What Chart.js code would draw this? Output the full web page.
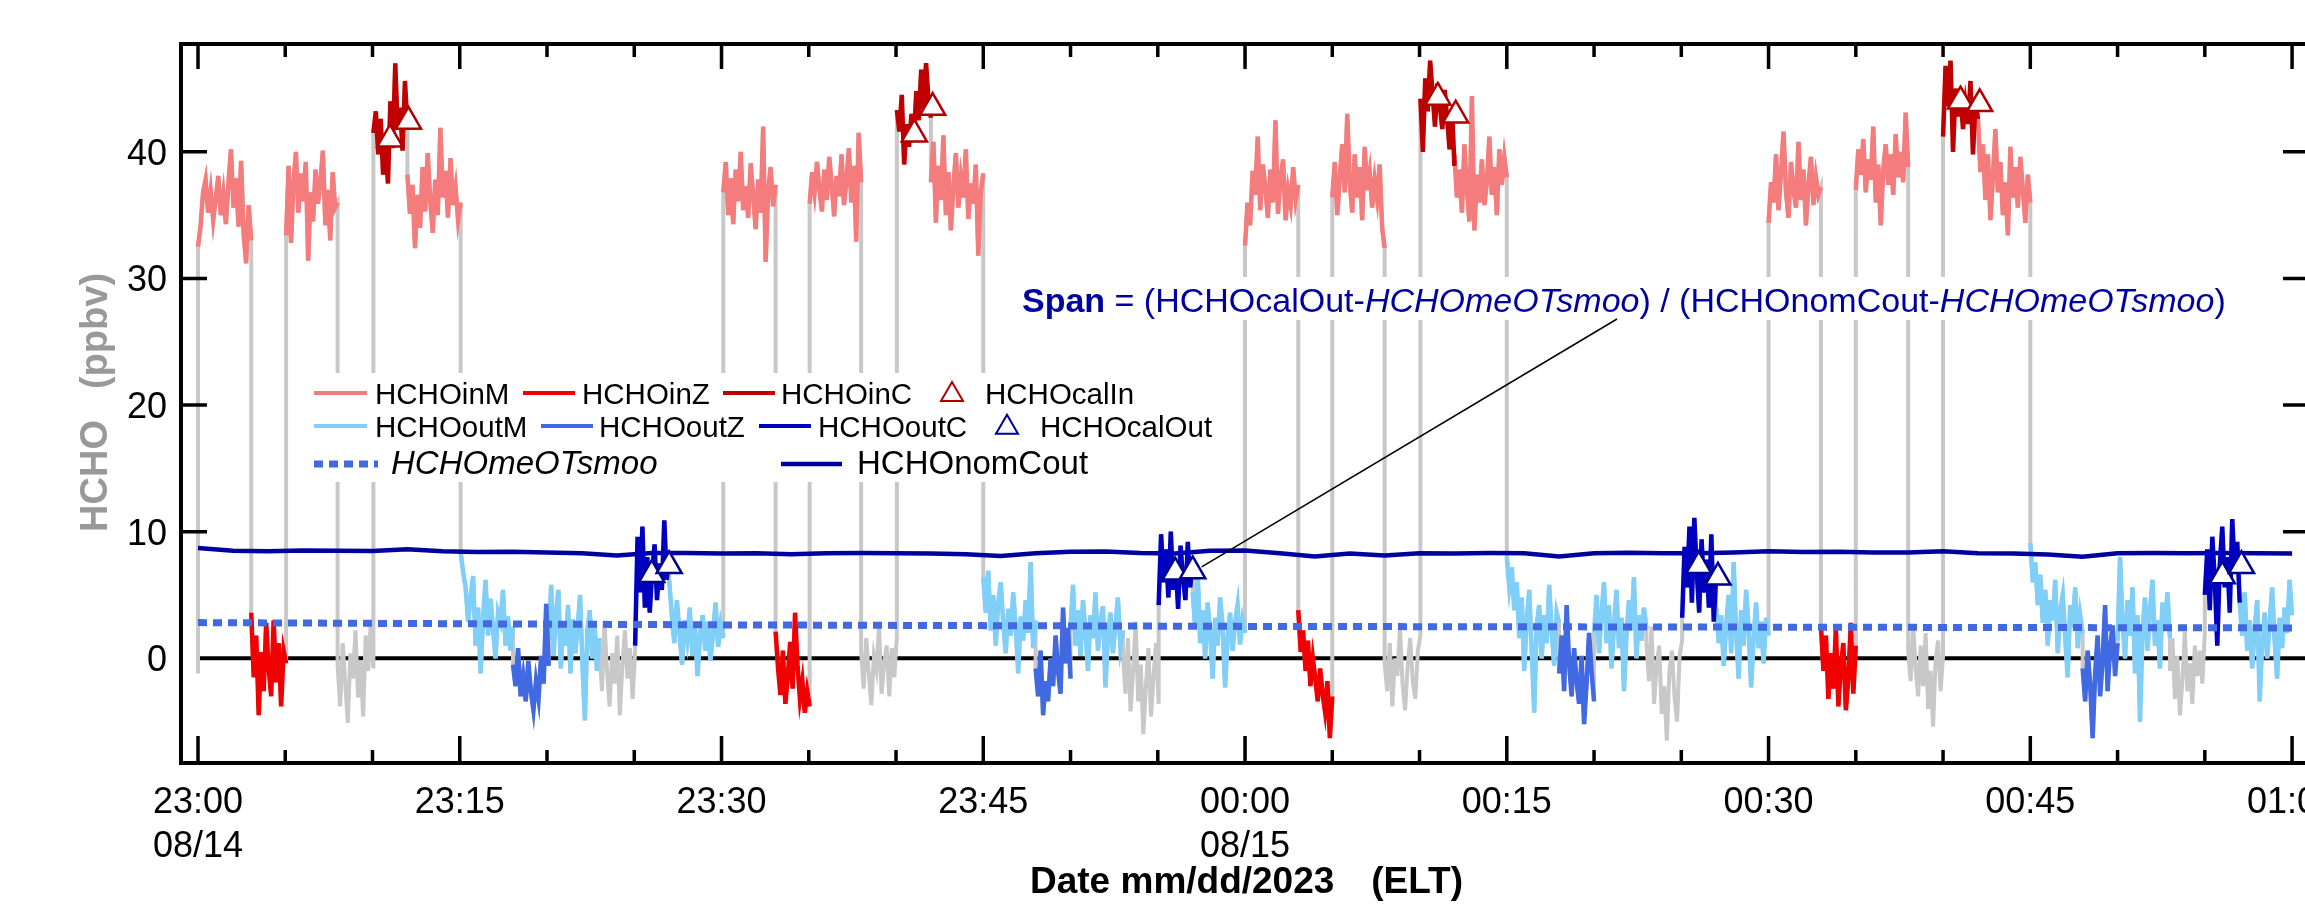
<!DOCTYPE html>
<html>
<head>
<meta charset="utf-8">
<title>HCHO in / out</title>
<script src="https://cdn.jsdelivr.net/npm/chart.js@4.4.1/dist/chart.umd.min.js"></script>
<style>
  html, body { margin: 0; padding: 0; background: #fff; overflow: hidden; }
  #wrap { width: 2330px; height: 913px; }
</style>
</head>
<body>
<div id="wrap"><canvas id="hcho" width="2330" height="913"></canvas></div>
<script>
// time = minutes after 23:00 on 08/14
// --- inlet ambient (HCHOinM)
const inMTimes = [[0,3.05],[5.05,8],[12,15.05],[30.1,33.1],[35.05,38],[42,45],[60,63.05],[65,68],[72,75],[90,93],[95,98],[102,105]];
const inMValues = [
  [32.5,34.1,36.8,37.8,35.2,36.9,34.6,36.3,38.1,35.0,36.7,34.3,37.5,40.2,35.6,37.9,34.1,39.3,33.5,31.2,35.8,33.0],
  [33.4,38.9,32.8,37.6,40.0,35.2,38.3,36.1,39.2,31.4,36.8,34.5,38.6,35.9,37.7,40.1,34.2,37.0,33.0,38.4,35.6,36.0],
  [38.2,35.1,37.4,32.4,36.6,34.0,38.8,35.3,39.9,36.2,33.6,37.8,35.0,41.9,36.4,38.5,34.8,39.5,35.8,37.2,34.6,36.0],
  [36.8,39.2,35.0,37.9,34.3,38.6,36.1,40.0,35.4,37.3,34.8,39.1,36.5,33.9,37.8,35.2,42.0,31.3,36.9,38.8,35.7,37.4],
  [35.9,38.4,36.8,39.2,37.0,35.3,38.6,36.2,39.6,37.4,34.9,38.1,36.5,39.8,35.8,37.7,40.3,36.0,38.9,32.9,41.5,37.6],
  [37.6,40.8,34.4,38.9,36.2,41.3,35.0,38.4,33.8,37.2,39.9,35.6,38.0,36.4,40.2,34.7,37.5,35.9,39.0,31.8,36.8,38.3],
  [32.6,36.0,34.2,38.5,36.6,41.2,35.4,39.0,37.2,34.8,38.6,36.0,42.5,35.1,37.9,39.4,34.6,37.0,35.8,38.8,36.2,37.4],
  [36.4,39.2,35.0,38.0,40.6,36.8,43.0,37.6,35.2,39.8,36.4,38.8,34.6,40.4,37.0,38.4,35.6,37.8,36.3,39.0,34.0,32.4],
  [39.8,36.4,38.6,35.2,40.6,37.0,34.5,44.4,33.8,38.2,36.0,39.4,35.8,37.6,41.2,36.6,38.8,35.0,40.2,37.4,39.6,38.0],
  [34.4,37.6,36.0,39.8,35.4,38.4,41.6,36.8,34.8,39.2,37.0,35.6,40.8,36.2,38.6,34.2,37.4,39.6,35.8,38.0,36.6,37.2],
  [37.0,40.2,38.2,41.0,36.8,39.4,37.8,42.0,36.0,39.0,34.2,38.6,40.6,37.4,39.8,36.6,41.4,38.0,40.0,37.6,43.1,38.8],
  [42.6,38.4,40.6,36.2,39.8,34.6,38.0,41.8,36.8,39.2,35.0,37.6,33.4,40.4,36.4,38.8,35.6,39.6,37.0,34.4,38.2,36.0]
];
// --- inlet zero (HCHOinZ)
const inZTimes = [[3.05,5.05],[33.1,35.05],[63.05,65],[93,95]];
const inZValues = [
  [3.6,-1.5,1.8,-4.5,0.5,-2.6,2.8,-0.8,-3.0,3.0,-1.9,1.2,-3.8,0.6,-0.4],
  [2.1,-0.8,-2.9,0.6,-3.6,-1.5,1.3,-2.4,3.6,-0.5,-3.2,-1.8,-4.3,-2.6,-3.8],
  [3.8,0.5,2.2,-1.0,1.4,-2.2,0.0,-1.6,-3.4,-0.8,-2.8,-4.2,-1.8,-6.3,-3.0],
  [2.6,-1.0,1.8,-3.2,0.4,-2.4,2.4,-3.8,-0.6,1.2,-4.1,-1.6,2.8,-2.8,1.0]
];
// --- inlet calibration (HCHOinC)
const inCTimes = [[10.05,12],[40.05,42],[70.05,72],[100,102]];
const inCValues = [
  [41.5,43.2,39.8,42.6,38.2,41.0,37.5,44.0,40.3,47.0,41.8,43.5,40.1,45.6,42.0],
  [43.3,41.6,44.5,39.0,42.2,40.4,43.0,41.2,44.8,42.5,46.5,43.4,47.0,44.1,42.7],
  [44.2,40.0,45.8,43.2,47.2,44.6,42.0,45.4,43.6,41.8,44.9,42.6,40.2,43.4,38.9],
  [41.2,46.8,43.6,47.2,40.0,45.0,42.8,44.6,41.8,43.8,42.2,45.6,39.8,44.0,42.6]
];
// --- outlet ambient (HCHOoutM)
const outMTimes = [[15.05,18.05],[20.1,23],[27,30.1],[45,48],[50,53],[57,60],[75,78],[80,83],[87,90],[105,108],[110,113],[117,120]];
const outMValues = [
  [8.4,6.8,5.6,2.9,4.8,6.5,1.0,4.0,-1.2,3.2,6.2,1.8,4.7,2.3,0.0,3.6,2.9,5.4,1.0,3.3,0.6,2.5],
  [1.5,5.8,0.2,3.6,5.4,-0.8,2.8,1.0,4.2,-1.2,3.1,0.4,2.5,5.0,-0.6,-4.9,2.2,3.8,0.0,2.9,-1.0,1.6],
  [6.2,3.5,1.2,4.6,2.0,-0.5,3.0,1.5,4.0,0.2,2.6,-1.4,1.8,3.4,0.6,2.9,-0.2,1.9,4.4,0.9,2.7,1.6],
  [6.4,3.6,6.9,2.2,5.0,1.0,4.4,6.0,2.8,0.4,3.9,1.8,5.2,2.5,-1.2,3.3,1.4,4.6,2.0,7.6,0.8,3.0],
  [2.4,5.8,1.0,3.8,0.2,4.6,2.1,-1.0,3.4,1.6,5.2,0.6,2.9,4.1,-2.3,1.8,3.6,0.4,2.6,4.8,0.9,2.2],
  [5.2,2.4,6.9,1.2,3.8,0.0,4.4,2.0,-1.6,3.2,1.0,4.8,2.6,-2.3,1.6,3.6,0.6,2.8,4.2,1.1,3.0,2.0],
  [8.0,5.6,7.2,3.8,6.0,1.6,4.8,-1.0,3.0,5.4,0.6,-4.3,2.6,4.2,0.0,3.4,1.2,5.8,2.2,-0.6,3.6,2.8],
  [2.0,5.0,0.4,3.6,6.0,1.2,4.2,-0.8,2.6,5.4,0.8,3.2,-2.6,1.8,4.6,2.2,6.4,0.0,3.4,1.4,4.0,2.4],
  [4.0,1.2,3.4,-0.6,2.6,5.0,0.4,7.6,2.0,-1.6,3.8,1.0,5.4,2.4,-2.3,1.6,4.4,0.8,2.9,-0.4,3.2,1.8],
  [9.1,6.0,7.6,4.2,6.6,2.8,5.4,1.0,4.6,3.0,6.2,0.4,3.8,5.0,1.6,-1.5,4.2,2.4,5.6,0.8,3.4,2.0],
  [1.4,8.0,2.8,0.0,4.6,1.8,5.6,-1.2,3.4,-5.0,2.0,4.8,0.6,3.8,6.2,1.0,3.0,-0.8,4.4,2.2,5.2,1.6],
  [4.4,1.8,5.2,0.6,3.0,-0.8,2.4,4.6,-3.4,1.2,3.6,0.0,2.8,5.6,1.4,-1.6,3.2,0.8,4.0,2.0,6.2,3.4]
];
// --- outlet zero (HCHOoutZ)
const outZTimes = [[18.05,20.1],[48,50],[78,80],[108,110]];
const outZValues = [
  [-0.5,-2.2,0.8,-3.0,-1.4,-3.4,-0.2,-2.6,-4.1,-1.8,-3.2,0.2,-2.0,4.3,-0.6],
  [-0.8,-3.0,0.6,-4.5,-1.8,-3.4,0.0,-2.2,1.8,-1.0,-2.8,4.0,-0.4,2.4,-1.6],
  [-1.2,1.8,-2.6,4.2,-0.4,-3.0,0.8,-1.8,-3.6,0.2,-5.2,-2.0,2.0,-1.0,-3.4],
  [-0.8,-3.4,0.6,-2.0,-6.3,-1.2,1.8,-3.0,-0.2,4.2,-2.6,0.8,2.6,-1.4,1.2]
];
// --- outlet calibration (HCHOoutC)
const outCTimes = [[25.05,27],[55.05,57],[85.05,87],[115,117]];
const outCValues = [
  [1.0,9.6,5.2,10.4,4.0,8.0,3.6,6.8,9.0,4.6,7.5,5.4,10.9,6.2,8.4],
  [4.2,9.8,6.0,8.6,4.8,10.0,5.4,7.6,3.9,8.9,6.4,4.6,9.2,5.6,7.8],
  [3.2,8.8,5.6,10.4,4.4,11.1,6.8,3.6,9.4,5.2,7.8,4.0,9.8,2.9,6.6],
  [5.0,8.6,3.8,9.6,6.2,1.0,7.4,10.4,5.6,8.0,3.6,11.0,6.8,9.2,4.4]
];
// --- unflagged periods (only in the grey full record)
const greyTimes = [[0,0],[8,10.05],[23,25.05],[38,40.05],[53,55.05],[68,70.05],[83,85.05],[98,100],[113,115]];
const greyValues = [
  [-1.2],
  [-0.5,-3.8,1.2,-2.0,-5.1,0.4,-1.6,2.2,-3.1,-0.2,-4.6,1.8,-1.0,2.9,-0.8],
  [1.0,-2.6,2.9,-1.0,-3.8,0.4,-2.0,1.8,-4.5,-0.6,2.2,-1.6,0.8,-3.2,0.5],
  [0.5,-2.4,1.6,-1.2,-3.7,0.2,-0.9,2.5,-2.8,-0.4,1.0,-3.0,0.8,-1.5,1.8],
  [0.4,-2.8,1.6,-4.2,-1.0,2.9,-3.4,-0.5,-6.0,-2.2,0.8,-4.6,-1.4,1.2,-3.6],
  [-0.4,-2.6,1.2,-3.8,0.0,-1.4,2.5,-2.0,-4.1,-0.6,1.6,-1.8,-3.2,0.6,1.8],
  [1.2,-1.8,2.5,-3.6,-0.6,1.0,-4.4,-2.2,-6.5,-1.0,0.6,-3.0,-5.0,0.2,1.4],
  [0.6,-1.8,2.7,-0.8,-3.0,1.0,-2.2,2.0,-4.0,-1.0,-5.4,-0.2,1.4,-2.6,0.2],
  [-1.0,1.6,-3.2,0.2,-4.5,-1.8,2.1,-2.6,-0.4,-3.6,1.0,-1.4,0.6,-2.0,2.0]
];
// --- calibration averages
const calInTimes = [11.0, 12.06, 41.05, 42.1, 71.05, 72.07, 101.0, 102.1];
const calInValues = [41.0, 42.4, 41.4, 43.5, 44.3, 42.9, 44.0, 43.8];
const calOutTimes = [26.0, 27.0, 56.0, 57.0, 86.0, 87.1, 116.0, 117.1];
const calOutValues = [6.6, 7.3, 6.8, 6.9, 7.3, 6.4, 6.5, 7.3];
// --- smoothed outlet zero (every 10 min) and nominal outlet cal (every 2 min)
const smooStep = 10;
const smooValues = [2.82,2.76,2.7,2.64,2.6,2.56,2.52,2.5,2.48,2.46,2.44,2.42,2.4];
const nomStep = 2;
const nomCoutValues = [8.72,8.5,8.45,8.52,8.5,8.48,8.62,8.45,8.4,8.42,8.36,8.3,8.12,8.32,8.32,8.28,
  8.3,8.22,8.3,8.32,8.3,8.28,8.22,8.08,8.3,8.42,8.44,8.32,8.28,8.5,8.52,8.3,8.05,8.28,8.12,8.3,
  8.28,8.32,8.3,8.05,8.3,8.34,8.3,8.3,8.36,8.45,8.4,8.42,8.35,8.36,8.45,8.3,8.28,8.2,8.02,8.3,
  8.32,8.3,8.32,8.3,8.28];
// --- axes
const yTicks = [0, 10, 20, 30, 40];
const xTickMinutes = [0, 15, 30, 45, 60, 75, 90, 105, 120];
const xTickTimes = ['23:00','23:15','23:30','23:45','00:00','00:15','00:30','00:45','01:00'];
const xTickDates = ['08/14','','','','08/15','','','',''];

const FONT = '"Liberation Sans", Arial, Helvetica, sans-serif';
const COL = {
  inM: '#f47c7c', inZ: '#f00000', inC: '#c00000',
  outM: '#80cff8', outZ: '#4169e1', outC: '#0000c0',
  grey: '#c8c8c8', smoo: '#4169e1', nom: '#0000a0',
  calIn: '#b00000', calOut: '#000090', span: '#0000a0'
};

// segments -> points, a null between segments to break the line
function segPoints(times, values) {
  const pts = [];
  times.forEach((t, i) => {
    const v = values[i], n = v.length;
    v.forEach((val, j) => pts.push({ x: n > 1 ? t[0] + (t[1] - t[0]) * j / (n - 1) : t[0], y: val }));
    pts.push({ x: t[1], y: null });
  });
  return pts;
}

// the grey full record joins every segment in time order
function allPoints() {
  const segs = [];
  [[inMTimes, inMValues], [inZTimes, inZValues], [inCTimes, inCValues],
   [outMTimes, outMValues], [outZTimes, outZValues], [outCTimes, outCValues],
   [greyTimes, greyValues]].forEach(([t, v]) => t.forEach((tt, i) => segs.push([tt, v[i]])));
  segs.sort((a, b) => a[0][0] - b[0][0] || a[0][1] - b[0][1]);
  const pts = [];
  segs.forEach(([t, v]) => {
    const n = v.length;
    v.forEach((val, j) => pts.push({ x: n > 1 ? t[0] + (t[1] - t[0]) * j / (n - 1) : t[0], y: val }));
  });
  return pts;
}

function lineSet(label, data, color, width, order) {
  return { label, data, borderColor: color, borderWidth: width, pointRadius: 0, fill: false, spanGaps: false, order };
}
function triSet(label, times, values, color) {
  return {
    label, data: times.map((t, i) => ({ x: t, y: values[i] })), showLine: false,
    pointStyle: 'triangle', pointRadius: 14.5, pointBorderWidth: 2.5,
    pointBackgroundColor: '#fff', pointBorderColor: color, borderColor: color, order: 1
  };
}

function triPath(ctx, cx, cy, r) {
  ctx.beginPath();
  for (let k = 0; k < 3; k++) {
    const a = k * 2 * Math.PI / 3;
    const px = cx + Math.sin(a) * r, py = cy - Math.cos(a) * r;
    k ? ctx.lineTo(px, py) : ctx.moveTo(px, py);
  }
  ctx.closePath();
}

// axes, legend and formula drawn like the Igor figure
const igorAxes = {
  id: 'igorAxes',
  beforeDatasetsDraw(chart) {
    const { ctx, chartArea: a, scales: { x, y } } = chart;
    const y0 = y.getPixelForValue(0);
    ctx.save();
    ctx.strokeStyle = '#000';
    ctx.lineWidth = 4;
    ctx.beginPath();
    ctx.moveTo(x.getPixelForValue(0), y0);
    ctx.lineTo(a.right, y0);
    ctx.stroke();
    ctx.restore();
  },
  afterDatasetsDraw(chart) {
    const { ctx, chartArea: a, scales: { x, y } } = chart;
    ctx.save();

    // white boxes under legend and formula
    ctx.fillStyle = '#fff';
    ctx.fillRect(303, 373, 920, 109);
    ctx.fillRect(1014, 277, 1208, 43);

    // legend
    const seg = (x1, x2, yy, color, w, dash) => {
      ctx.save();
      ctx.strokeStyle = color; ctx.lineWidth = w;
      if (dash) ctx.setLineDash(dash);
      ctx.beginPath(); ctx.moveTo(x1, yy); ctx.lineTo(x2, yy); ctx.stroke();
      ctx.restore();
    };
    const txt = (s, xx, base, font) => { ctx.font = font; ctx.fillStyle = '#000'; ctx.textAlign = 'left'; ctx.fillText(s, xx, base); };
    const tri = (cx, cy, color) => {
      ctx.save(); ctx.strokeStyle = color; ctx.lineWidth = 2;
      triPath(ctx, cx, cy, 12.7); ctx.stroke(); ctx.restore();
    };
    const f1 = `29.5px ${FONT}`;
    seg(314, 367, 393, COL.inM, 4); txt('HCHOinM', 375, 404, f1);
    seg(523, 575, 393, COL.inZ, 4); txt('HCHOinZ', 582, 404, f1);
    seg(723, 775, 393, COL.inC, 4); txt('HCHOinC', 781, 404, f1);
    tri(952, 394.7, COL.calIn); txt('HCHOcalIn', 985, 404, f1);
    seg(314, 367, 426, COL.outM, 4); txt('HCHOoutM', 375, 437, f1);
    seg(541, 593, 426, COL.outZ, 4); txt('HCHOoutZ', 599, 437, f1);
    seg(759, 811, 426, COL.outC, 4); txt('HCHOoutC', 818, 437, f1);
    tri(1007, 427.5, COL.calOut); txt('HCHOcalOut', 1040, 437, f1);
    seg(314, 378, 464, COL.smoo, 7, [9, 6]); txt('HCHOmeOTsmoo', 391, 474, `italic 33px ${FONT}`);
    seg(781, 842, 464, COL.nom, 4.5); txt('HCHOnomCout', 857, 474, `33px ${FONT}`);

    // span formula
    const parts = [['Span', 'bold '], [' = (HCHOcalOut-', ''], ['HCHOmeOTsmoo', 'italic '],
                   [') / (HCHOnomCout-', ''], ['HCHOmeOTsmoo', 'italic '], [')', '']];
    let px = 1022;
    ctx.fillStyle = COL.span; ctx.textAlign = 'left';
    parts.forEach(([s, st]) => {
      ctx.font = `${st}34px ${FONT}`;
      ctx.fillText(s, px, 312);
      px += ctx.measureText(s).width;
    });

    // leader from formula to the HCHOcalOut point
    const tx = x.getPixelForValue(calOutTimes[3]), ty = y.getPixelForValue(calOutValues[3]);
    ctx.strokeStyle = '#000'; ctx.lineWidth = 1.5;
    ctx.beginPath(); ctx.moveTo(1617, 319); ctx.lineTo(tx + 9, ty - 4); ctx.stroke();

    // frame
    ctx.lineWidth = 4;
    ctx.strokeRect(a.left, a.top, a.right - a.left, a.bottom - a.top);

    // ticks, pointing inward
    ctx.lineWidth = 3.5;
    for (let m = 0; m <= 120; m += 5) {
      const tx2 = x.getPixelForValue(m), major = m % 15 === 0;
      ctx.beginPath();
      ctx.moveTo(tx2, a.bottom); ctx.lineTo(tx2, a.bottom - (major ? 27 : 13));
      ctx.moveTo(tx2, a.top); ctx.lineTo(tx2, a.top + (major ? 25 : 13));
      ctx.stroke();
    }
    yTicks.forEach(v => {
      if (v === 0) return;
      const py = y.getPixelForValue(v);
      ctx.beginPath();
      ctx.moveTo(a.left, py); ctx.lineTo(a.left + 26, py);
      ctx.moveTo(a.right, py); ctx.lineTo(a.right - 26, py);
      ctx.stroke();
    });

    // tick labels
    ctx.fillStyle = '#000';
    ctx.font = `36px ${FONT}`;
    ctx.textAlign = 'right';
    yTicks.forEach(v => ctx.fillText(String(v), 167, y.getPixelForValue(v) + 13));
    ctx.textAlign = 'center';
    xTickMinutes.forEach((m, i) => {
      const lx = x.getPixelForValue(m);
      ctx.fillText(xTickTimes[i], lx, 813);
      if (xTickDates[i]) ctx.fillText(xTickDates[i], lx, 857);
    });

    // axis titles
    ctx.font = `bold 37px ${FONT}`;
    ctx.textAlign = 'left';
    ctx.fillText('Date mm/dd/2023', 1030, 893);
    ctx.textAlign = 'right';
    ctx.fillText('(ELT)', 1463, 893);

    ctx.fillStyle = '#999';
    ctx.font = `bold 38px ${FONT}`;
    ctx.textAlign = 'center';
    ctx.save(); ctx.translate(107, 476); ctx.rotate(-Math.PI / 2); ctx.fillText('HCHO', 0, 0); ctx.restore();
    ctx.save(); ctx.translate(107, 331); ctx.rotate(-Math.PI / 2); ctx.fillText('(ppbv)', 0, 0); ctx.restore();

    ctx.restore();
  }
};

const chart = new Chart(document.getElementById('hcho'), {
  type: 'line',
  data: {
    datasets: [
      triSet('HCHOcalIn', calInTimes, calInValues, COL.calIn),
      triSet('HCHOcalOut', calOutTimes, calOutValues, COL.calOut),
      Object.assign(lineSet('HCHOmeOTsmoo', smooValues.map((v, i) => ({ x: i * smooStep, y: v })), COL.smoo, 7, 2),
        { borderDash: [9, 6], borderCapStyle: 'butt' }),
      lineSet('HCHOinZ', segPoints(inZTimes, inZValues), COL.inZ, 4.5, 3),
      lineSet('HCHOinC', segPoints(inCTimes, inCValues), COL.inC, 4.5, 3),
      lineSet('HCHOoutZ', segPoints(outZTimes, outZValues), COL.outZ, 4.5, 3),
      lineSet('HCHOoutC', segPoints(outCTimes, outCValues), COL.outC, 4.5, 3),
      lineSet('HCHOnomCout', nomCoutValues.map((v, i) => ({ x: i * nomStep, y: v })), COL.nom, 4.5, 4),
      lineSet('HCHOinM', segPoints(inMTimes, inMValues), COL.inM, 4.5, 5),
      lineSet('HCHOoutM', segPoints(outMTimes, outMValues), COL.outM, 4.5, 5),
      lineSet('HCHO', allPoints(), COL.grey, 4, 9)
    ]
  },
  options: {
    responsive: false,
    animation: false,
    devicePixelRatio: 1,
    events: [],
    layout: { padding: { left: 181, top: 44, right: 21, bottom: 150 } },
    plugins: { legend: { display: false }, tooltip: { enabled: false } },
    elements: { line: { tension: 0 } },
    scales: {
      x: { type: 'linear', min: -0.974, max: 120.97, display: false },
      y: { type: 'linear', min: -8.27, max: 48.52, display: false }
    }
  },
  plugins: [igorAxes]
});
</script>
</body>
</html>
